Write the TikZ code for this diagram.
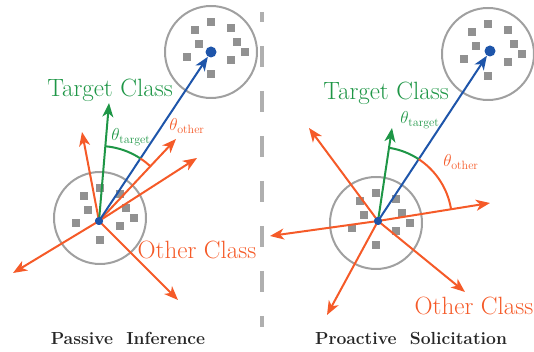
\documentclass[tikz,border=0pt]{standalone}
\usetikzlibrary{arrows.meta,angles,positioning}
\definecolor{tgreen}{RGB}{30,150,70}
\definecolor{oorange}{RGB}{245,90,40}
\definecolor{pblue}{RGB}{30,85,170}
\definecolor{sqgray}{RGB}{145,145,145}
\definecolor{ringgray}{RGB}{160,160,160}
\definecolor{divgray}{RGB}{175,175,175}
\begin{document}
\begin{tikzpicture}[x=1pt,y=1pt,>={Stealth[length=14pt,width=11pt,inset=4pt]},
  cluster/.style={circle,draw=ringgray,line width=2pt,minimum size=92pt,inner sep=0},
  point/.style={circle,fill=pblue,inner sep=0,minimum size=#1},
  sample/.style={fill=sqgray,inner sep=0,minimum size=8.5pt},
  ray/.style={->,line width=2pt},
  lab/.style={font=\fontsize{25}{28}\selectfont},
  theta/.style={font=\fontsize{18}{20}\selectfont},
  title/.style={font=\fontsize{17.5}{20}\selectfont\bfseries,text=black!85}]
\useasboundingbox (0,0) rectangle (534,352);
% clusters
\node[cluster] (cL) at (100,134) {};
\node[cluster] (cTL) at (211,300) {};
\node[cluster] (cR) at (376,129) {};
\node[cluster] (cTR) at (488,298) {};
\foreach \c in {cL,cTL,cR,cTR}
  \foreach \dx/\dy [count=\k] in {-16/22,0/30,20/24,-12/8,26/10,34/0,-24/-5,20/-8,0/-22}
    \node[sample] (\c s\k) at ([shift={(\dx,\dy)}]\c) {};
% divider
\draw[divgray,line width=4pt,dash pattern=on 21pt off 24pt,dash phase=11pt] (262,340) -- (262,25);
% passive inference
\node[point=8pt] (dL) at (99,131) {};
\node[point=11pt] (pL) at (211,300) {};
\coordinate (gL) at (109,249);
\coordinate (oL1) at (82,220);
\coordinate (oL2) at (176,213);
\coordinate (oL3) at (197,194);
\coordinate (oL4) at (13,79);
\coordinate (oL5) at (178,52);
\foreach \t in {oL1,oL2,oL3,oL4,oL5}
  \draw[ray,oorange] (dL.center) -- (\t);
\draw[ray,tgreen] (dL.center) -- (gL);
\draw[ray,pblue] (dL.center) -- (pL);
\pic[draw=tgreen,line width=2pt,angle radius=75pt] {angle=pL--dL--gL};
\pic[draw=oorange,line width=2pt,angle radius=75pt] {angle=oL2--dL--pL};
\node[point=8pt] at (dL) {};
\node[lab,text=tgreen] (tL) at (110,262) {Target Class};
\node[theta,text=tgreen] (thtL) at (131,215) {$\theta_{\mathrm{target}}$};
\node[theta,text=oorange] (thoL) at (187,226) {$\theta_{\mathrm{other}}$};
\node[lab,text=oorange] (otL) at (197,102) {Other Class};
\node[title] (nL) at (128,14) {Passive\ \ Inference};
% proactive solicitation
\node[point=8pt] (dR) at (378,131) {};
\node[point=11pt] (pR) at (490,301) {};
\coordinate (gR) at (392,224);
\coordinate (oR1) at (309,224);
\coordinate (oR2) at (490,149);
\coordinate (oR3) at (270,116);
\coordinate (oR4) at (327,37);
\coordinate (oR5) at (465,60);
\foreach \t in {oR1,oR2,oR3,oR4,oR5}
  \draw[ray,oorange] (dR.center) -- (\t);
\draw[ray,tgreen] (dR.center) -- (gR);
\draw[ray,pblue] (dR.center) -- (pR);
\pic[draw=tgreen,line width=2pt,angle radius=74pt] {angle=pR--dR--gR};
\pic[draw=oorange,line width=2pt,angle radius=74pt] {angle=oR2--dR--pR};
\node[point=8pt] at (dR) {};
\node[lab,text=tgreen] (tR) at (386,259) {Target Class};
\node[theta,text=tgreen] (thtR) at (420,232) {$\theta_{\mathrm{target}}$};
\node[theta,text=oorange] (thoR) at (461,190) {$\theta_{\mathrm{other}}$};
\node[lab,text=oorange] (otR) at (474,46) {Other Class};
\node[title] (nR) at (411,14) {Proactive\ \ Solicitation};
\end{tikzpicture}
\end{document}
